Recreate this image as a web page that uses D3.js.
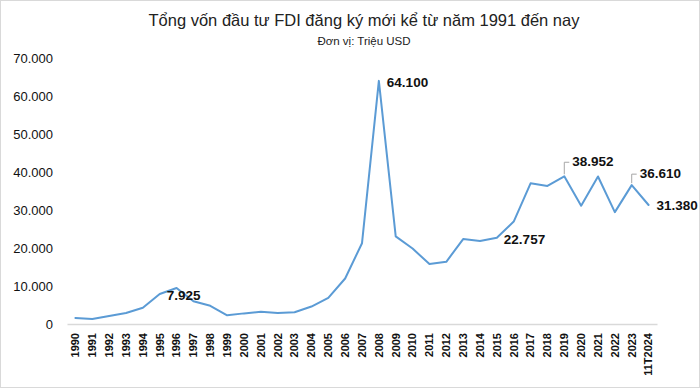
<!DOCTYPE html>
<html>
<head>
<meta charset="utf-8">
<script src="https://cdn.jsdelivr.net/npm/d3@7"></script>
<style>
  body { margin: 0; background: #fff; }
  svg { display: block; font-family: "Liberation Sans", Arial, sans-serif; }
</style>
</head>
<body>
<div id="line-chart"></div>
<script>
const years = [
  "1990", "1991", "1992", "1993", "1994", "1995", "1996", "1997", "1998", "1999",
  "2000", "2001", "2002", "2003", "2004", "2005", "2006", "2007", "2008", "2009",
  "2010", "2011", "2012", "2013", "2014", "2015", "2016", "2017", "2018", "2019",
  "2020", "2021", "2022", "2023", "11T2024",
];
const values = [
  1600, 1300, 2100, 2900, 4300, 7925, 9500, 6000, 4800, 2300,
  2800, 3200, 2900, 3100, 4600, 6900, 12000, 21300, 64100, 23100,
  19900, 15800, 16400, 22400, 21900, 22757, 27000, 37100, 36400, 38952,
  31200, 38900, 29500, 36610, 31380,
];
const yTicks = [0, 10000, 20000, 30000, 40000, 50000, 60000, 70000];
// years that get a data label
const labelled = ["1995", "2008", "2015", "2019", "2023", "11T2024"];

const data = years.map((y, i) => ({ year: y, value: values[i] }));

const width = 700;
const height = 388;
const margin = { top: 58.5, right: 43, bottom: 64, left: 67 };
const lineColor = "#5B9BD5";
const fmt = (v) => d3.format(",")(v).replace(/,/g, ".");

const svg = d3.select("#line-chart").append("svg").attr("width", width).attr("height", height);

// khung ngoài
svg
  .append("rect")
  .attr("x", 0.5)
  .attr("y", 0.5)
  .attr("width", width - 1)
  .attr("height", height - 1)
  .attr("fill", "#fff")
  .attr("stroke", "#d9d9d9");

const x = d3
  .scaleBand()
  .domain(years)
  .range([margin.left, width - margin.right])
  .paddingInner(0)
  .paddingOuter(0);

const y = d3
  .scaleLinear()
  .domain([0, 70000])
  .range([height - margin.bottom, margin.top]);

const cx = (d) => x(d) + x.bandwidth() / 2;

// tiêu đề
svg
  .append("text")
  .attr("x", 364)
  .attr("y", 26)
  .attr("text-anchor", "middle")
  .attr("fill", "#222")
  .style("font-size", "16.5px")
  .text("Tổng vốn đầu tư FDI đăng ký mới kể từ năm 1991 đến nay");
svg
  .append("text")
  .attr("x", 364)
  .attr("y", 45)
  .attr("text-anchor", "middle")
  .attr("fill", "#222")
  .style("font-size", "11.5px")
  .text("Đơn vị: Triệu USD");

const xAxis = (g) =>
  g
    .attr("transform", `translate(0,${height - margin.bottom})`)
    .call(d3.axisBottom(x).tickSize(0).tickPadding(0))
    .call((g) => g.select(".domain").attr("stroke", "#d9d9d9").attr("stroke-width", 1.5))
    .call((g) =>
      g
        .selectAll(".tick text")
        .attr("transform", "rotate(-90)")
        .attr("x", -9)
        .attr("y", 0)
        .attr("dy", "0.35em")
        .attr("text-anchor", "end")
        .attr("fill", "#111")
        .attr("font-weight", "bold")
        .style("font-size", "11px")
        .style("font-family", "Liberation Sans, Arial, sans-serif")
    );

const yAxis = (g) =>
  g
    .attr("transform", `translate(${margin.left},0)`)
    .call(d3.axisLeft(y).tickValues(yTicks).tickSize(0).tickPadding(14).tickFormat(fmt))
    .call((g) => g.select(".domain").remove())
    .call((g) =>
      g
        .selectAll(".tick text")
        .attr("fill", "#111")
        .style("font-size", "13px")
        .style("font-family", "Liberation Sans, Arial, sans-serif")
    );

svg.append("g").call(xAxis);
svg.append("g").call(yAxis);

const line = d3
  .line()
  .x((d) => cx(d.year))
  .y((d) => y(d.value));

svg
  .append("path")
  .datum(data)
  .attr("fill", "none")
  .attr("stroke", lineColor)
  .attr("stroke-width", 2)
  .attr("stroke-linejoin", "round")
  .attr("stroke-linecap", "round")
  .attr("d", line);

// nhãn dữ liệu: dx, dy so với điểm, leader = có đường dẫn
const labelPos = {
  "1995": { dx: 7, dy: 6, leader: false },
  "2008": { dx: 8, dy: 6, leader: false },
  "2015": { dx: 7, dy: 6, leader: false },
  "2019": { dx: 8, dy: -10, leader: true },
  "2023": { dx: 8, dy: -7, leader: true },
  "11T2024": { dx: 8, dy: 5, leader: false },
};

const labels = svg
  .append("g")
  .selectAll("g")
  .data(data.filter((d) => labelled.includes(d.year)))
  .join("g")
  .attr("transform", (d) => `translate(${cx(d.year)},${y(d.value)})`);

labels
  .filter((d) => labelPos[d.year].leader)
  .append("path")
  .attr("fill", "none")
  .attr("stroke", "#a6a6a6")
  .attr("stroke-width", 1)
  .attr("d", (d) => {
    const p = labelPos[d.year];
    return `M0,-2V${p.dy - 4}H${p.dx - 3}`;
  });

labels
  .append("text")
  .attr("x", (d) => labelPos[d.year].dx)
  .attr("y", (d) => labelPos[d.year].dy)
  .attr("fill", "#111")
  .attr("font-weight", "bold")
  .style("font-size", "13.5px")
  .text((d) => fmt(d.value));
</script>
</body>
</html>
